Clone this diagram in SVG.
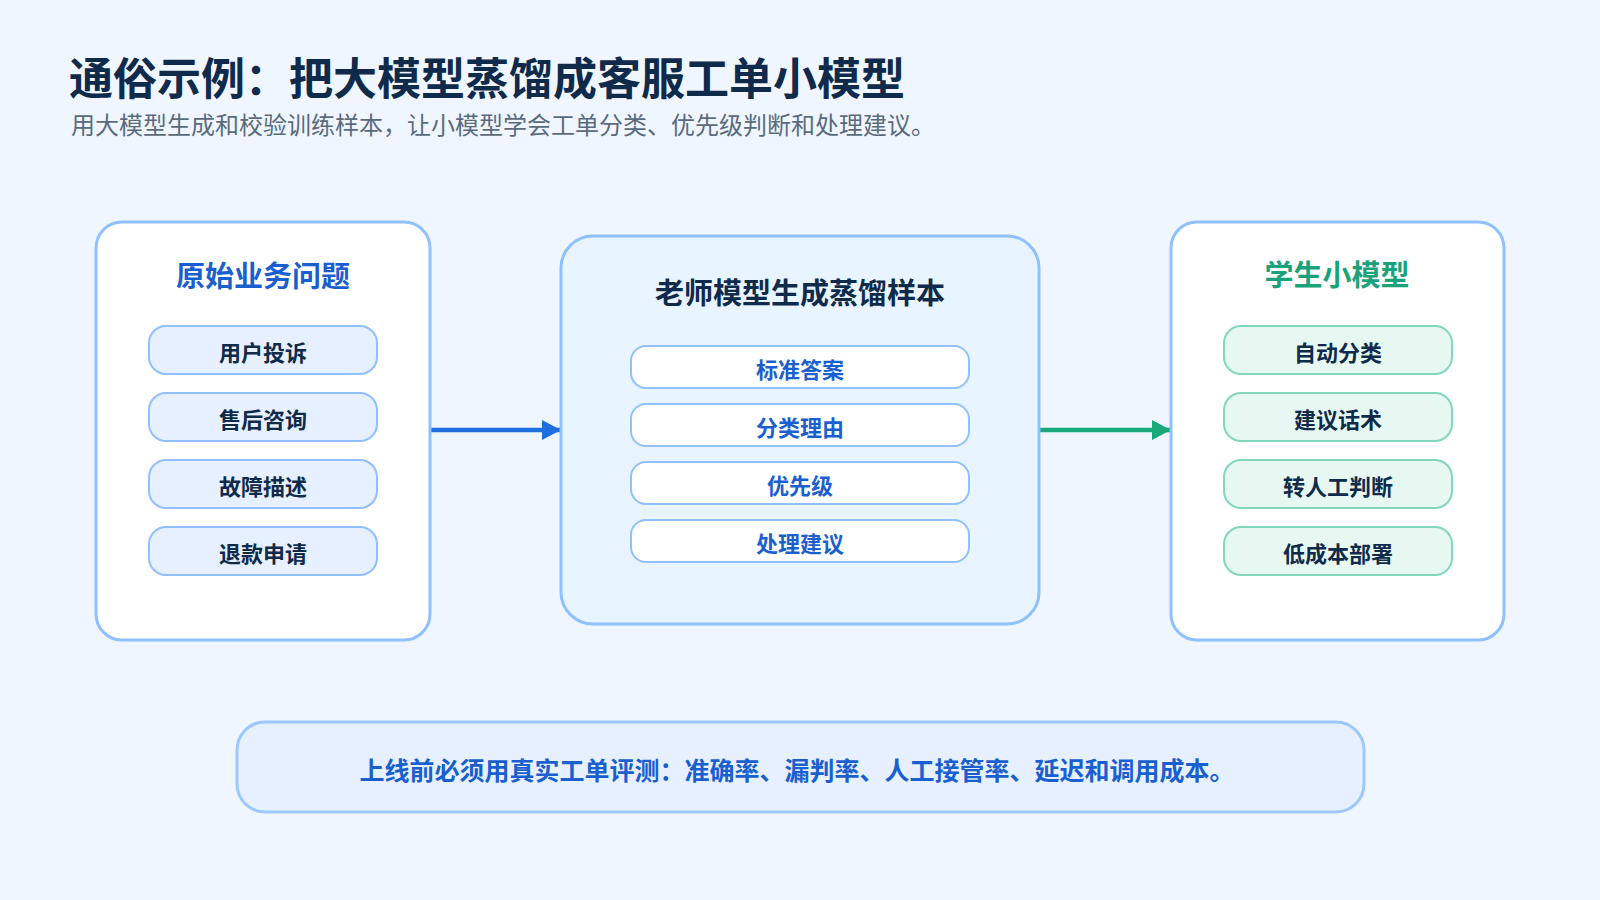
<svg xmlns="http://www.w3.org/2000/svg" width="1600" height="900" viewBox="0 0 1600 900">
<defs>
<style>
text{font-family:"Noto Sans CJK SC","Noto Sans",sans-serif;text-anchor:middle}
.title{font-size:44px;font-weight:700;fill:#0f2a4a;text-anchor:start}
.sub{font-size:24px;font-weight:400;fill:#5a6b80;text-anchor:start}
.panel{fill:#ffffff;stroke:#8fc0ff;stroke-width:3}
.panelMid{fill:#e8f4ff;stroke:#8fc0ff;stroke-width:3}
.h{font-size:29px;font-weight:700}
.pillB{fill:#e6f0ff;stroke:#90c0ff;stroke-width:2}
.pillW{fill:#ffffff;stroke:#90c0ff;stroke-width:2}
.pillG{fill:#e6f8f1;stroke:#82d8b8;stroke-width:2}
.t{font-size:22px;font-weight:700;fill:#0f2a4a}
.tb{font-size:22px;font-weight:700;fill:#1a5fd0}
</style>
<marker id="ab" markerWidth="19" markerHeight="20" refX="19" refY="10" orient="auto" markerUnits="userSpaceOnUse"><path d="M0,0 L19,10 L0,20 Z" fill="#1f6fe0"/></marker>
<marker id="ag" markerWidth="19" markerHeight="20" refX="19" refY="10" orient="auto" markerUnits="userSpaceOnUse"><path d="M0,0 L19,10 L0,20 Z" fill="#18a87a"/></marker>
</defs>
<rect width="1600" height="900" fill="#eff6ff"/>
<g id="header">
<text class="title" x="69" y="95">通俗示例：把大模型蒸馏成客服工单小模型</text>
<text class="sub" x="71" y="134">用大模型生成和校验训练样本，让小模型学会工单分类、优先级判断和处理建议。</text>
</g>
<g id="connectors">
<line x1="430" y1="430" x2="561" y2="430" stroke="#1f6fe0" stroke-width="4.5" marker-end="url(#ab)"/>
<line x1="1040" y1="430" x2="1171" y2="430" stroke="#18a87a" stroke-width="4.5" marker-end="url(#ag)"/>
</g>
<g id="source">
<rect class="panel" x="96" y="222" width="334" height="418" rx="26"/>
<text class="h" x="263" y="287" fill="#1a5fd0">原始业务问题</text>
<rect class="pillB" x="149" y="326" width="228" height="48" rx="17"/>
<text class="t" x="263" y="361">用户投诉</text>
<rect class="pillB" x="149" y="393" width="228" height="48" rx="17"/>
<text class="t" x="263" y="428">售后咨询</text>
<rect class="pillB" x="149" y="460" width="228" height="48" rx="17"/>
<text class="t" x="263" y="495">故障描述</text>
<rect class="pillB" x="149" y="527" width="228" height="48" rx="17"/>
<text class="t" x="263" y="562">退款申请</text>
</g>
<g id="teacher">
<rect class="panelMid" x="561" y="236" width="478" height="388" rx="32"/>
<text class="h" x="800" y="304" fill="#0f2a4a" font-size="30">老师模型生成蒸馏样本</text>
<rect class="pillW" x="631" y="346" width="338" height="42" rx="15"/>
<text class="tb" x="800" y="378">标准答案</text>
<rect class="pillW" x="631" y="404" width="338" height="42" rx="15"/>
<text class="tb" x="800" y="436">分类理由</text>
<rect class="pillW" x="631" y="462" width="338" height="42" rx="15"/>
<text class="tb" x="800" y="494">优先级</text>
<rect class="pillW" x="631" y="520" width="338" height="42" rx="15"/>
<text class="tb" x="800" y="552">处理建议</text>
</g>
<g id="student">
<rect class="panel" x="1171" y="222" width="333" height="418" rx="26"/>
<text class="h" x="1337" y="286" fill="#1aa37a">学生小模型</text>
<rect class="pillG" x="1224" y="326" width="228" height="48" rx="17"/>
<text class="t" x="1338" y="361">自动分类</text>
<rect class="pillG" x="1224" y="393" width="228" height="48" rx="17"/>
<text class="t" x="1338" y="428">建议话术</text>
<rect class="pillG" x="1224" y="460" width="228" height="48" rx="17"/>
<text class="t" x="1338" y="495">转人工判断</text>
<rect class="pillG" x="1224" y="527" width="228" height="48" rx="17"/>
<text class="t" x="1338" y="562">低成本部署</text>
</g>
<g id="note">
<rect x="237" y="722" width="1127" height="90" rx="28" fill="#e6f0ff" stroke="#9cc8ff" stroke-width="3"/>
<text x="797" y="780" font-size="25" font-weight="700" fill="#1a5fd0">上线前必须用真实工单评测：准确率、漏判率、人工接管率、延迟和调用成本。</text>
</g>
</svg>
